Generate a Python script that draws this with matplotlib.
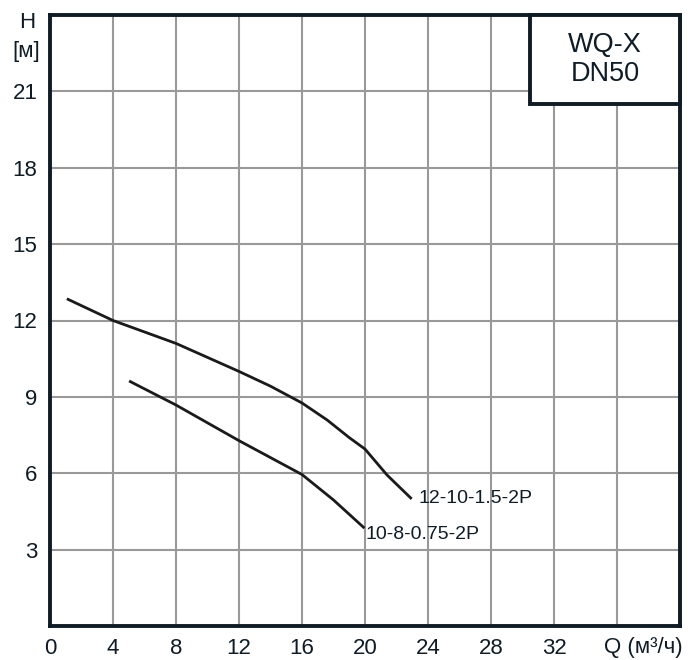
import matplotlib.pyplot as plt
from matplotlib.patches import Rectangle

plt.rcParams['font.family'] = ['Liberation Sans', 'DejaVu Sans']

# 12-10-1.5-2P
q1 = [1.15, 4, 8, 12, 14, 16, 17.6, 19, 20, 21.4, 22.9]
h1 = [12.83, 12.0, 11.1, 10.0, 9.42, 8.76, 8.09, 7.4, 6.95, 5.93, 5.03]
# 10-8-0.75-2P
q2 = [5.1, 8, 12, 16, 18, 19.9]
h2 = [9.6, 8.68, 7.28, 5.95, 4.95, 3.88]

xticks = [0, 4, 8, 12, 16, 20, 24, 28, 32]
yticks = [3, 6, 9, 12, 15, 18, 21]

fig = plt.figure(figsize=(6.94, 6.6), dpi=100)
ax = fig.add_axes([50/694, 1 - 626/660, 630/694, 611/660])

dark = '#0f1c26'
ax.plot(q1, h1, color='#1a1a1a', lw=2)
ax.plot(q2, h2, color='#1a1a1a', lw=2)

ax.text(23.4, 5.0, '12-10-1.5-2P', fontsize=14, va='center', ha='left', color=dark)
ax.text(20.0, 3.6, '10-8-0.75-2P', fontsize=14, va='center', ha='left', color=dark)

ax.set_xlim(0, 40)
ax.set_ylim(0, 24)
ax.set_xticks(list(range(0, 40, 4)))
ax.set_xticklabels([str(t) for t in xticks] + [''])
ax.set_yticks(yticks)
ax.grid(True, color='#999999', lw=1.5)
ax.tick_params(length=0, labelsize=16, colors=dark)
ax.tick_params(axis='x', pad=9)
ax.tick_params(axis='y', pad=9)
for s in ax.spines.values():
    s.set_linewidth(2.8)
    s.set_color(dark)

ax.text(37.7, -0.85, 'Q (м³/ч)', fontsize=16, ha='center', va='center', color=dark)
ax.text(-1.45, 23.7, 'H', fontsize=16, ha='center', va='center', color=dark)
ax.text(-1.5, 22.55, '[м]', fontsize=16, ha='center', va='center', color=dark)

box = Rectangle((30.5, 20.5), 9.5, 3.5, facecolor='white', edgecolor=dark,
                lw=2.8, zorder=5, clip_on=False)
ax.add_patch(box)
ax.text(35.25, 22.25, 'WQ-X\nDN50', fontsize=19.5, ha='center', va='center',
        color=dark, zorder=6, linespacing=1.15)

fig.savefig('out.png', dpi=100)
